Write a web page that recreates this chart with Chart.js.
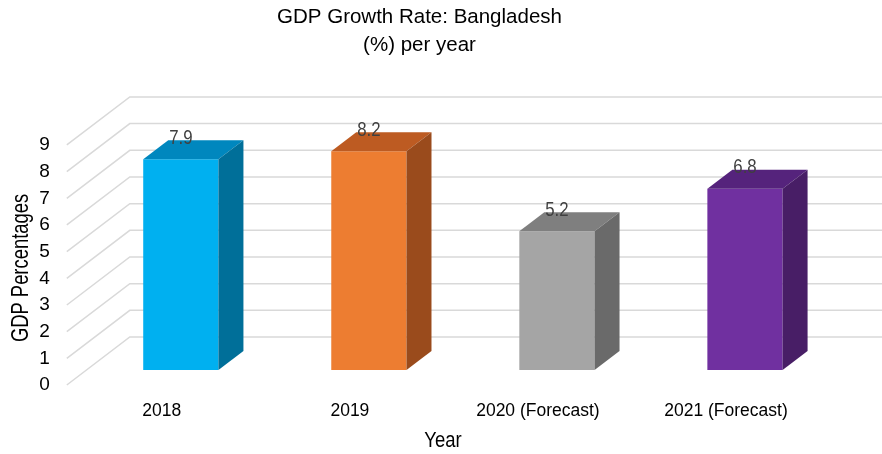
<!DOCTYPE html>
<html>
<head>
<meta charset="utf-8">
<title>GDP Growth Rate: Bangladesh</title>
<script src="https://cdn.jsdelivr.net/npm/chart.js@4.4.1/dist/chart.umd.min.js"></script>
<style>
  html, body { margin: 0; padding: 0; background: #fff; }
</style>
</head>
<body>
<canvas id="gdpChart" width="882" height="454"></canvas>
<script>
const years = ["2018", "2019", "2020 (Forecast)", "2021 (Forecast)"];
const growth = [7.9, 8.2, 5.2, 6.8];
const yMax = 9;

const frontColors = ["#00B0F0", "#ED7D31", "#A5A5A5", "#7030A0"];
const topColors   = ["#0087BE", "#BD5B22", "#7F7F7F", "#55237C"];
const sideColors  = ["#006F99", "#9A4B1C", "#6A6A6A", "#481E66"];

const FONT = "'Liberation Sans', Arial, sans-serif";
Chart.defaults.font.family = FONT;

// bar depth and wall offsets (px)
const BAR_DX = 25, BAR_DY = 19;
const FRONT_DX = -20, FRONT_DY = 15;
const BACK_DX = 43, BACK_DY = -33;

// condensed text: squeeze glyphs horizontally around (x, y)
function narrowText(ctx, text, x, y, size, squeeze) {
  ctx.save();
  ctx.translate(x, y);
  ctx.scale(squeeze, 1);
  ctx.font = size + "px " + FONT;
  ctx.fillText(text, 0, 0);
  ctx.restore();
}

// back wall + side gridlines
const wallGrid = {
  id: 'wallGrid',
  beforeDatasetsDraw(chart) {
    const { ctx, chartArea, scales: { y } } = chart;
    ctx.save();
    ctx.strokeStyle = '#d9d9d9';
    ctx.lineWidth = 1.5;
    y.ticks.forEach(t => {
      const py = y.getPixelForValue(t.value);
      ctx.beginPath();
      ctx.moveTo(chartArea.left + FRONT_DX, py + FRONT_DY);
      ctx.lineTo(chartArea.left + BACK_DX, py + BACK_DY);
      ctx.lineTo(chart.width, py + BACK_DY);
      ctx.stroke();
    });
    ctx.restore();
  }
};

// top and side faces, value labels, axis titles
const bars3d = {
  id: 'bars3d',
  afterDatasetsDraw(chart) {
    const { ctx } = chart;
    const meta = chart.getDatasetMeta(0);
    ctx.save();
    meta.data.forEach((bar, i) => {
      const { x, y, base, width } = bar.getProps(['x', 'y', 'base', 'width'], true);
      const l = x - width / 2, r = x + width / 2;

      ctx.fillStyle = topColors[i];
      ctx.beginPath();
      ctx.moveTo(l, y);
      ctx.lineTo(r, y);
      ctx.lineTo(r + BAR_DX, y - BAR_DY);
      ctx.lineTo(l + BAR_DX, y - BAR_DY);
      ctx.closePath();
      ctx.fill();

      ctx.fillStyle = sideColors[i];
      ctx.beginPath();
      ctx.moveTo(r, y);
      ctx.lineTo(r + BAR_DX, y - BAR_DY);
      ctx.lineTo(r + BAR_DX, base - BAR_DY);
      ctx.lineTo(r, base);
      ctx.closePath();
      ctx.fill();

      ctx.fillStyle = '#404040';
      ctx.textAlign = 'center';
      ctx.textBaseline = 'middle';
      narrowText(ctx, growth[i].toFixed(1), x, y - 21, 21, 0.8);
    });
    ctx.restore();
  },
  afterDraw(chart) {
    const { ctx, chartArea } = chart;
    ctx.save();
    ctx.fillStyle = '#000';
    ctx.textAlign = 'center';
    ctx.textBaseline = 'middle';
    narrowText(ctx, 'Year', 443, 441, 22, 0.84);
    ctx.translate(22, (chartArea.top + chartArea.bottom) / 2 + 18);
    ctx.rotate(-Math.PI / 2);
    narrowText(ctx, 'GDP Percentages', 0, 0, 23, 0.8);
    ctx.restore();
  }
};

new Chart(document.getElementById('gdpChart'), {
  type: 'bar',
  data: {
    labels: years,
    datasets: [{
      data: growth,
      backgroundColor: frontColors,
      borderWidth: 0,
      categoryPercentage: 1,
      barPercentage: 0.4
    }]
  },
  options: {
    responsive: false,
    animation: false,
    devicePixelRatio: 1,
    layout: { padding: { left: 0, right: 43, top: 0, bottom: 0 } },
    plugins: {
      legend: { display: false },
      tooltip: { enabled: false },
      title: {
        display: true,
        text: ['GDP Growth Rate: Bangladesh', '(%) per year'],
        color: '#000',
        font: { size: 20.5, weight: 'normal', lineHeight: 1.35 },
        padding: { top: 4, bottom: 70.6 }
      }
    },
    scales: {
      x: {
        grid: { display: false, drawTicks: false },
        border: { display: false },
        ticks: { labelOffset: -19, padding: 31, color: '#000', font: { size: 17.5 } },
        afterFit(scale) { scale.height = 84; }
      },
      y: {
        min: 0,
        max: yMax,
        grid: { display: false, drawTicks: false },
        border: { display: false },
        ticks: { stepSize: 1, padding: 37, labelOffset: 15, color: '#000', font: { size: 19 } },
        afterFit(scale) { scale.width = 86.8; }
      }
    }
  },
  plugins: [wallGrid, bars3d]
});
</script>
</body>
</html>
